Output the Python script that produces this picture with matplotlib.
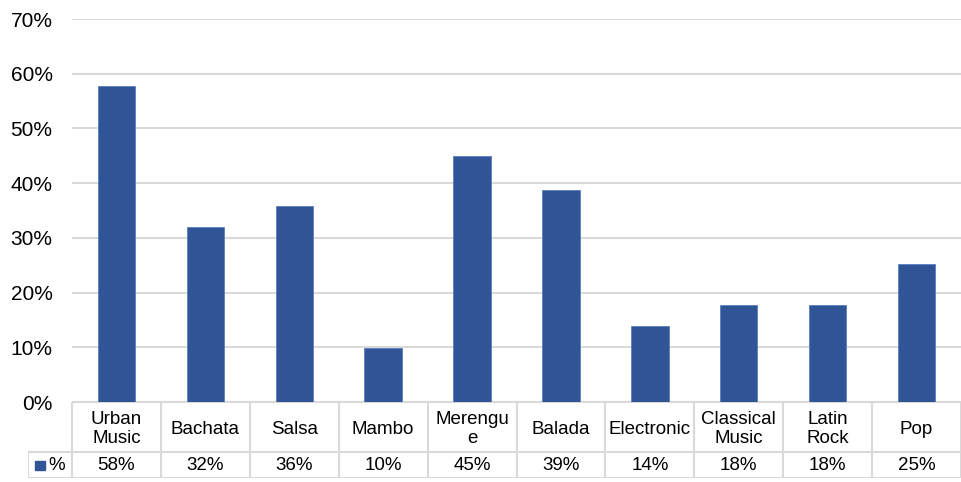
import matplotlib
matplotlib.use("Agg")
import matplotlib.pyplot as plt
from matplotlib.patches import Rectangle

plt.rcParams['font.family'] = ['Liberation Sans', 'DejaVu Sans']

categories = ["Urban\nMusic", "Bachata", "Salsa", "Mambo", "Merengu\ne",
              "Balada", "Electronic", "Classical\nMusic", "Latin\nRock", "Pop"]
values = [57.7, 32.0, 35.9, 9.9, 45.0, 38.8, 13.8, 17.8, 17.8, 25.3]
series_name = "%"

bar_color = "#2F5597"
grid_color = "#D9D9D9"

W, H = 961, 482
fig = plt.figure(figsize=(W / 100, H / 100), dpi=100)

# plot area in pixels
x0, x1 = 72, 961
y_top, y_zero = 19, 402
ax = fig.add_axes([x0 / W, 1 - y_zero / H, (x1 - x0) / W, (y_zero - y_top) / H])
n = len(categories)
xs = list(range(n))
ax.bar(xs, values, width=0.42, color=bar_color, edgecolor="#5B7FC0", linewidth=0.6, zorder=3)
ax.set_xlim(-0.5, n - 0.5)
ax.set_ylim(0, 70)
ax.set_yticks(range(0, 71, 10))
ax.set_yticklabels([f"{t}%" for t in range(0, 71, 10)], fontsize=15)
ax.tick_params(axis='y', length=0, pad=14)
ax.set_xticks([])
ax.grid(axis='y', color=grid_color, linewidth=1.5, zorder=0)
for s in ax.spines.values():
    s.set_visible(False)

# data table below the plot
col_w = (x1 - x0) / n
tx0 = 28
t_bottom = 478
left_edge = -0.5 - (x0 - tx0) / col_w
tab = fig.add_axes([tx0 / W, 1 - t_bottom / H, (x1 - tx0) / W, (t_bottom - y_zero) / H])
tab.set_xlim(left_edge, n - 0.5)
tab.set_ylim(t_bottom - y_zero, 0)
tab.axis('off')
row_split = 452 - y_zero
row_end = t_bottom - y_zero
lc = dict(color=grid_color, linewidth=1.5, solid_capstyle='butt')
tab.plot([-0.5, n - 0.5], [0, 0], **lc)
tab.plot([left_edge, n - 0.5], [row_split, row_split], **lc)
tab.plot([left_edge, n - 0.5], [row_end, row_end], **lc)
for i in range(n + 1):
    tab.plot([i - 0.5, i - 0.5], [0, row_end], **lc)
tab.plot([left_edge, left_edge], [row_split, row_end], **lc)

for i, (c, v) in enumerate(zip(categories, values)):
    tab.text(i, row_split / 2 + 2, c, ha='center', va='center', fontsize=13.5, linespacing=1.15)
    tab.text(i, (row_split + row_end) / 2 + 1, f"{round(v):.0f}%", ha='center', va='center', fontsize=13.5)

# legend key inside the table
key_x = left_edge + 7 / col_w
tab.add_patch(Rectangle((key_x, (row_split + row_end) / 2 - 4), 10 / col_w, 9,
                        color=bar_color, clip_on=False))
tab.text(key_x + 13 / col_w, (row_split + row_end) / 2, series_name, ha='left', va='center', fontsize=13.5)

fig.savefig("out.png", dpi=100)
